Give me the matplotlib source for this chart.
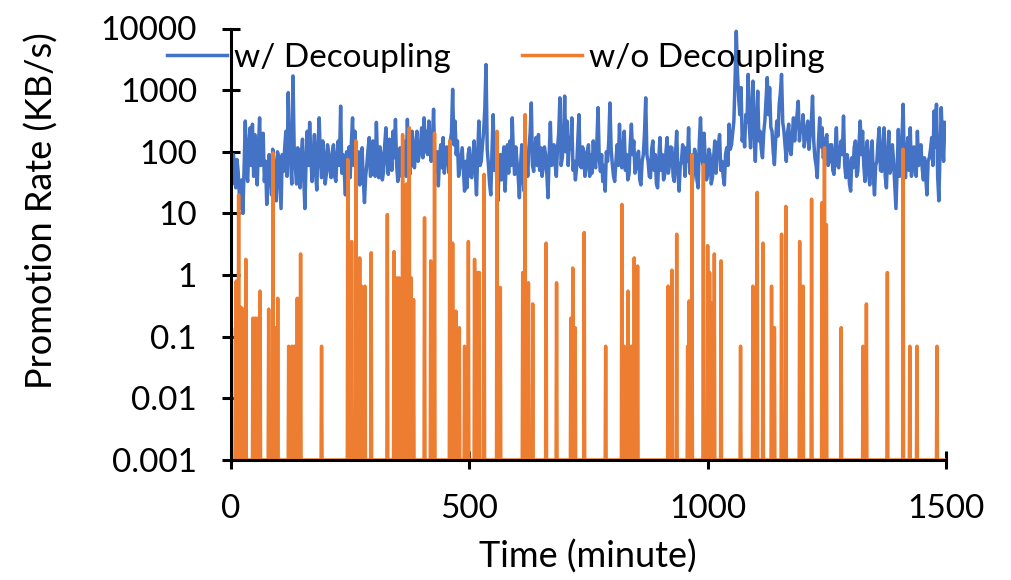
import numpy as np
import matplotlib
matplotlib.use("Agg")
import matplotlib.pyplot as plt
from matplotlib.ticker import NullLocator

plt.rcParams['font.family'] = ['Lato', 'DejaVu Sans']

# ---------------- data ----------------
# w/ Decoupling, read every 5 minutes (0, 5, 10, ...)
blue_minutes = np.arange(0, 1500, 5)
blue_values = [
    # 0 - 240
    55, 90, 26, 48, 12, 10, 315, 33, 245, 280, 190, 29, 355, 116, 33, 14, 90, 20, 70, 16,
    80, 12, 48, 215, 910, 70, 1700, 55, 116, 26, 160, 12, 215, 300, 33, 190, 24, 355, 38, 90,
    43, 90, 38, 130, 33, 150, 550, 90, 20,
    # 245 - 490
    70, 38, 355, 215, 38, 29, 116, 15, 62, 170, 43, 90, 300, 38, 90, 48, 245, 43, 102, 215,
    335, 33, 116, 48, 90, 335, 43, 215, 55, 215, 90, 245, 355, 215, 315, 70, 490, 48, 28, 130,
    170, 70, 90, 150, 1030, 315, 150, 55, 116, 23,
    # 495 - 740
    26, 116, 38, 150, 20, 315, 70, 215, 2600, 62, 20, 400, 190, 16, 90, 70, 23, 130, 150, 355,
    43, 70, 18, 130, 23, 90, 116, 620, 48, 170, 190, 116, 55, 90, 18, 300, 70, 62, 116, 750,
    80, 800, 315, 170, 355, 70, 55, 400, 55, 102,
    # 745 - 990
    55, 130, 90, 150, 55, 520, 48, 33, 23, 70, 620, 62, 33, 130, 280, 55, 215, 90, 43, 280,
    150, 55, 102, 29, 90, 750, 70, 38, 150, 90, 26, 170, 90, 43, 170, 62, 116, 33, 215, 23,
    70, 90, 116, 245, 55, 43, 90, 26, 355, 62,
    # 995 - 1235
    70, 43, 90, 38, 150, 90, 190, 70, 29, 116, 280, 130, 315, 9000, 750, 1100, 245, 400, 1800, 116,
    1400, 70, 960, 215, 80, 315, 1600, 1100, 215, 62, 315, 580, 1800, 215, 70, 280, 90, 355, 280, 660,
    245, 400, 170, 315, 190, 800, 80, 38, 355,
    # 1240 - 1495
    245, 102, 190, 70, 130, 43, 245, 55, 150, 380, 38, 70, 23, 55, 150, 48, 315, 215, 33, 150,
    29, 150, 20, 70, 245, 48, 245, 26, 215, 55, 70, 12, 230, 55, 590, 38, 170, 245, 55, 80,
    215, 80, 55, 80, 20, 80, 170, 460, 590, 16, 520, 70,
]
# w/ Decoupling, read at the in-between minutes (2.5, 7.5, 12.5, ...)
blue_mid_minutes = np.arange(2.5, 1500, 5)
blue_mid_values = [
    # 2.5 - 242.5
    30, 60, 75, 20, 35, 60, 45, 140, 60, 40, 90, 120, 60, 200, 70, 40, 45, 110, 30, 100,
    30, 90, 110, 40, 150, 30, 120, 30, 60, 90, 40, 70, 60, 90, 70, 45, 120, 80, 150, 30,
    130, 50, 100, 40, 90, 60, 45, 50, 100,
    # 247.5 - 492.5
    120, 140, 60, 80, 100, 70, 35, 40, 110, 40, 150, 40, 70, 120, 35, 130, 70, 160, 50, 80,
    60, 110, 40, 150, 40, 90, 120, 60, 140, 70, 130, 80, 100, 90, 120, 150, 60, 100, 80, 55,
    45, 120, 45, 200, 130, 90, 40, 80, 50, 70,
    # 497.5 - 742.5
    90, 40, 80, 50, 90, 60, 130, 500, 110, 30, 100, 50, 35, 60, 35, 120, 70, 45, 60, 90,
    120, 40, 60, 35, 80, 40, 200, 60, 110, 60, 50, 40, 120, 45, 90, 60, 130, 40, 200, 60,
    150, 100, 60, 110, 50, 35, 150, 60, 120, 40,
    # 747.5 - 992.5
    100, 40, 45, 70, 140, 80, 90, 60, 100, 150, 110, 40, 70, 60, 70, 120, 50, 35, 130, 90,
    45, 90, 35, 70, 200, 90, 40, 110, 50, 30, 80, 50, 35, 100, 45, 120, 40, 90, 50, 60,
    130, 40, 70, 45, 30, 110, 35, 150, 80, 200,
    # 997.5 - 1237.5
    35, 110, 30, 80, 45, 130, 50, 40, 90, 60, 110, 200, 1500, 2000, 400, 150, 120, 300, 250, 500,
    200, 300, 150, 110, 200, 700, 400, 250, 100, 150, 180, 900, 300, 120, 200, 110, 180, 150, 400, 150,
    220, 120, 250, 110, 300, 150, 60, 150, 120,
    # 1242.5 - 1497.5
    80, 160, 60, 130, 50, 100, 60, 110, 90, 60, 90, 30, 80, 120, 40, 130, 90, 60, 100, 45,
    90, 40, 60, 150, 50, 120, 40, 90, 45, 130, 30, 50, 40, 150, 70, 100, 50, 40, 120, 40,
    60, 130, 35, 40, 70, 110, 60, 120, 40, 100, 150, 300,
]

# w/o Decoupling: minutes with non-zero promotion and their rates
orange_spike_minutes = [
    1, 11, 16, 21, 26, 31, 46, 51, 56, 61, 79, 88, 93, 98, 121, 128, 133, 139, 146, 190,
    245, 253, 262, 270, 274, 281, 294, 328, 342, 348, 353, 360, 368, 374, 378, 383, 406, 419, 427,
    459, 465, 472, 479, 490,
    498, 511, 516, 521, 531, 558, 565, 612, 617, 624, 633, 661, 683, 713, 717, 722, 741,
    786, 820, 825, 833, 840, 846, 853, 917, 925, 935, 958, 961, 967, 991,
    1000, 1004, 1008, 1014, 1028, 1069, 1095, 1104, 1116, 1134, 1140, 1155, 1164, 1193, 1200, 1218,
    1240, 1245, 1249, 1280, 1326, 1333, 1377, 1410, 1424, 1439, 1481,
]
orange_spike_values = [
    0.14, 0.8, 20, 0.3, 0.28, 1.8, 0.2, 0.2, 0.2, 0.55, 0.28, 96, 0.14, 0.42, 0.07, 0.07, 0.07, 0.42, 2.2, 0.07,
    75, 3.5, 150, 1.9, 0.66, 0.66, 2.3, 9.6, 2.4, 0.9, 0.9, 190, 30, 245, 0.9, 0.4, 8.5, 1.7, 200,
    150, 3.3, 0.26, 0.14, 0.07,
    3.5, 1.8, 1.1, 1.1, 43, 215, 0.63, 1.1, 400, 0.75, 0.34, 3.3, 0.75, 0.2, 1.3, 0.14, 4.9,
    0.07, 14, 0.07, 0.55, 0.07, 1.9, 1.4, 0.66, 1.2, 4.6, 0.07, 0.38, 90, 62,
    3, 1.1, 0.35, 2.2, 1.7, 0.07, 0.66, 22, 3.3, 0.66, 0.14, 4.6, 13, 3.5, 0.66, 17,
    15, 116, 6.6, 0.14, 0.07, 0.34, 1.1, 110, 0.07, 0.07, 0.07,
]
orange_baseline = 0.001  # minutes without promotion sit on the axis floor

ytick_values = [0.001, 0.01, 0.1, 1, 10, 100, 1000, 10000]
ytick_labels = ['0.001', '0.01', '0.1', '1', '10', '100', '1000', '10000']
xtick_values = [0, 500, 1000, 1500]
xtick_labels = ['0', '500', '1000', '1500']

# merge the two blue readings into one time-ordered series
blue_t = np.concatenate([blue_minutes, blue_mid_minutes])
blue_v = np.concatenate([np.asarray(blue_values, float), np.asarray(blue_mid_values, float)])
order = np.argsort(blue_t)
blue_t, blue_v = blue_t[order], blue_v[order]

# full per-minute orange series
orange_minutes = np.arange(0, 1501)
orange_series = np.full(orange_minutes.shape, orange_baseline, dtype=float)
orange_series[np.array(orange_spike_minutes)] = orange_spike_values

# ---------------- figure ----------------
W, H = 1012, 580
fig = plt.figure(figsize=(W / 100, H / 100), dpi=100)
ax = fig.add_axes([231 / W, 1 - 460 / H, 715 / W, 431.5 / H])

blue = '#4472C4'
orange = '#ED7D31'
fs = 24

l1, = ax.plot(blue_t, blue_v, color=blue, lw=2.5, label='w/ Decoupling')
l2, = ax.plot(orange_minutes, orange_series, color=orange, lw=2.5, label='w/o Decoupling')

ax.set_yscale('log')
ax.set_ylim(0.001, 10000)
ax.set_xlim(0, 1500)
ax.set_yticks(ytick_values)
ax.set_yticklabels(ytick_labels)
ax.yaxis.set_minor_locator(NullLocator())
ax.set_xticks(xtick_values)
ax.set_xticklabels(xtick_labels)

for s in ['top', 'right']:
    ax.spines[s].set_visible(False)
for s in ['left', 'bottom']:
    ax.spines[s].set_linewidth(2.2)
    ax.spines[s].set_zorder(5)

ax.tick_params(axis='y', direction='inout', length=13, width=2.2, labelsize=fs, pad=18)
ax.tick_params(axis='x', direction='inout', length=13, width=2.2, labelsize=fs, pad=18)

fig.text(42 / W, 1 - 211 / H, 'Promotion Rate (KB/s)', rotation=90, ha='center', va='center', fontsize=26)
fig.text(588 / W, 1 - 557 / H, 'Time (minute)', ha='center', va='center', fontsize=26)

fig.legend(handles=[l1, l2], loc='center left', bbox_to_anchor=(167 / W, 1 - 58 / H),
           ncol=2, frameon=False, fontsize=24, handlelength=1.8, handletextpad=0.2,
           columnspacing=2.15, borderpad=0, borderaxespad=0)

fig.savefig('out.png', dpi=100)
